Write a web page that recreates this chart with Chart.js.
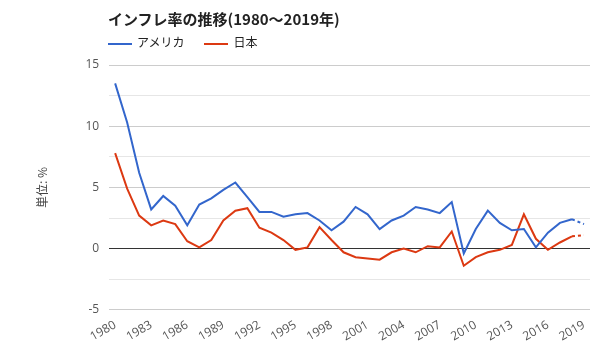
<!DOCTYPE html>
<html>
<head>
<meta charset="utf-8">
<script src="https://cdn.jsdelivr.net/npm/chart.js@4"></script>
<style>
  body { margin: 0; background: #fff; font-family: "Noto Sans CJK JP", sans-serif; }
  #wrap { position: relative; width: 600px; height: 360px; }
  #title { position: absolute; left: 108px; top: 8px; font-size: 15px; font-weight: bold; color: #222; }
  #legend { position: absolute; left: 108px; top: 33px; font-size: 12px; color: #222; }
  #legend span.item { margin-right: 20px; }
  #legend span.sw { display: inline-block; width: 24px; height: 2px; vertical-align: middle; margin-right: 5px; }
</style>
</head>
<body>
<div id="wrap">
  <canvas id="inflationChart" width="600" height="360"></canvas>
  <div id="title">インフレ率の推移(1980〜2019年)</div>
  <div id="legend"></div>
</div>
<script>
var years = [];
for (var y = 1980; y <= 2019; y++) years.push(String(y));

var usa = [13.5, 10.3, 6.2, 3.2, 4.3, 3.5, 1.9, 3.6, 4.1, 4.8,
  5.4, 4.2, 3.0, 3.0, 2.6, 2.8, 2.9, 2.3, 1.5, 2.2,
  3.4, 2.8, 1.6, 2.3, 2.7, 3.4, 3.2, 2.9, 3.8, -0.4,
  1.6, 3.1, 2.1, 1.5, 1.6, 0.1, 1.3, 2.1, 2.4, 2.0];

var japan = [7.8, 4.9, 2.7, 1.9, 2.3, 2.0, 0.6, 0.1, 0.7, 2.3,
  3.1, 3.3, 1.7, 1.3, 0.7, -0.1, 0.1, 1.75, 0.7, -0.3,
  -0.7, -0.8, -0.9, -0.3, 0.0, -0.3, 0.2, 0.1, 1.4, -1.4,
  -0.7, -0.3, -0.1, 0.3, 2.8, 0.8, -0.1, 0.5, 1.0, 1.1];

var seriesNames = ["アメリカ", "日本"];
var seriesColors = ["#3366cc", "#dc3912"];

var lastIdx = years.length - 1;
function lastDash(ctx) {
  return ctx.p1DataIndex === lastIdx ? [3, 3] : undefined;
}

var legendEl = document.getElementById("legend");
seriesNames.forEach(function (name, i) {
  legendEl.innerHTML += '<span class="item"><span class="sw" style="background:' +
    seriesColors[i] + '"></span>' + name + '</span>';
});

var tickFont = { size: 12, family: "'Open Sans', sans-serif" };

new Chart("inflationChart", {
  type: "line",
  data: {
    labels: years,
    datasets: [
      {
        label: seriesNames[0],
        data: usa,
        borderColor: seriesColors[0],
        borderWidth: 2,
        pointRadius: 0,
        tension: 0,
        segment: { borderDash: lastDash },
      },
      {
        label: seriesNames[1],
        data: japan,
        borderColor: seriesColors[1],
        borderWidth: 2,
        pointRadius: 0,
        tension: 0,
        segment: { borderDash: lastDash },
      },
    ],
  },
  options: {
    responsive: false,
    animation: false,
    layout: { padding: { top: 65, right: 10, bottom: 8, left: 21 } },
    plugins: {
      legend: { display: false },
      title: { display: false },
      tooltip: { enabled: false },
    },
    scales: {
      x: {
        offset: true,
        grid: { display: false, drawTicks: false },
        border: { display: false },
        ticks: {
          autoSkip: false,
          maxRotation: 30,
          minRotation: 30,
          padding: 8,
          color: "#555",
          font: tickFont,
          callback: function (val, idx) {
            return idx % 3 === 0 ? this.getLabelForValue(val) : "";
          },
        },
      },
      y: {
        min: -5,
        max: 15,
        border: { display: false },
        grid: {
          drawTicks: false,
          color: function (ctx) {
            var v = ctx.tick.value;
            if (v === 0) return "#333";
            return v % 5 === 0 ? "#ccc" : "#e6e6e6";
          },
        },
        ticks: {
          stepSize: 2.5,
          padding: 10,
          color: "#555",
          font: tickFont,
          callback: function (v) {
            return v % 5 === 0 ? v : "";
          },
        },
        title: {
          display: true,
          text: "単位: %",
          color: "#444",
          font: { size: 12, family: "Noto Sans CJK JP" },
          padding: { top: 14, bottom: 26 },
        },
      },
    },
  },
});
</script>
</body>
</html>
